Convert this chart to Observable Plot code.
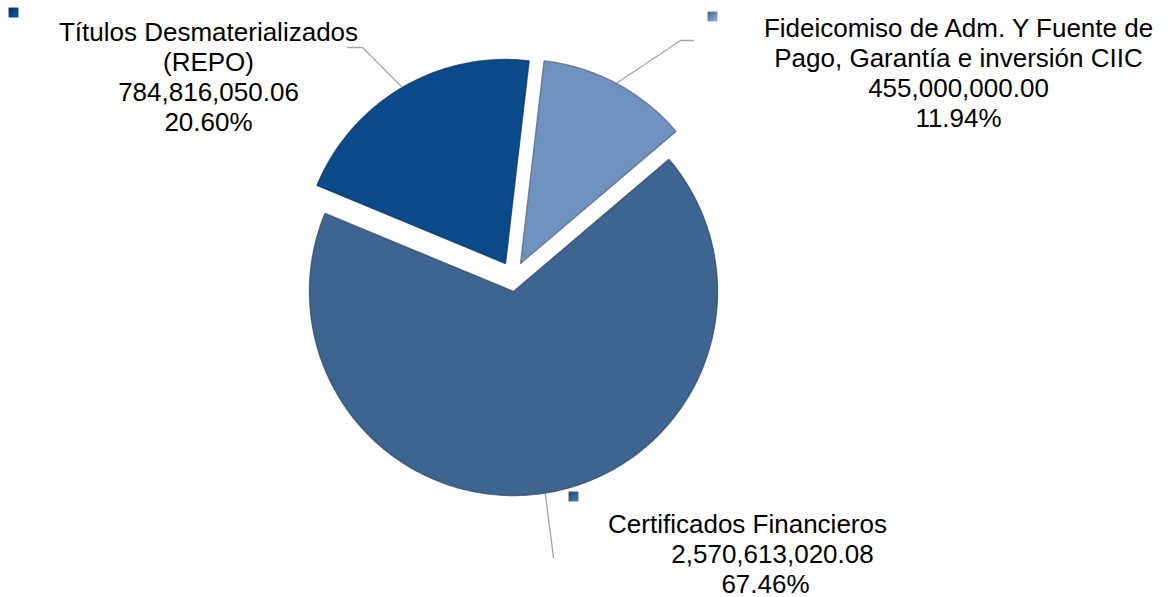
<!DOCTYPE html>
<html><head><meta charset="utf-8">
<script src="https://cdn.jsdelivr.net/npm/d3@7"></script>
<script src="https://cdn.jsdelivr.net/npm/@observablehq/plot@0.6"></script>
<style>html,body{margin:0;padding:0;background:#fff;} #chart svg{display:block}</style>
</head><body><div id="chart"></div>
<script>
// ---- data ----
const categories = ["Títulos Desmaterializados\n(REPO)", "Fideicomiso de Adm. Y Fuente de\nPago, Garantía e inversión CIIC", "Certificados Financieros"];
const values = [784816050.06, 455000000.00, 2570613020.08];
const colors = ["#0b4a8a", "#7092bf", "#3d6590"];

// ---- layout (pixels) ----
const W = 1168, H = 597;
const R = 204;
const center = [513, 291];
const explode = [[-8, -28], [7, -28], [0, 0]];
const startAngle = -67.5 * Math.PI / 180;
const labelX = [[208, 208, 208, 208], [958, 958, 958, 958], [747, 772, 765]];
const labelY0 = [40, 36, 532];
const lineGap = 30;
const leaderElbow = [[[362, 47], [347, 47]], [[680, 40], [693, 40]], [[553, 557]]];
const keyPos = [[13, 12], [712, 16], [573, 496]];

const total = d3.sum(values);
const fmtVal = d3.format(",.2f");
const fmtPct = d3.format(".2%");
const arcs = d3.pie().sort(null).startAngle(startAngle).endAngle(startAngle + 2 * Math.PI)(values);

const sliceMarks = [];
const leaders = [];
arcs.forEach((a, i) => {
  const ox = center[0] + explode[i][0], oy = center[1] + explode[i][1];
  const n = Math.max(12, Math.ceil((a.endAngle - a.startAngle) * 80));
  const pts = [{x: ox, y: oy}];
  for (let j = 0; j <= n; j++) {
    const t = a.startAngle + (a.endAngle - a.startAngle) * j / n;
    pts.push({x: ox + R * Math.sin(t), y: oy - R * Math.cos(t)});
  }
  pts.push({x: ox, y: oy});
  sliceMarks.push(Plot.line(pts, {x: "x", y: "y", fill: colors[i], stroke: d3.color(colors[i]).darker(0.9).formatHex(), strokeWidth: 1.4, strokeOpacity: 0.75, strokeLinejoin: "miter"}));
  const mid = (a.startAngle + a.endAngle) / 2;
  const lp = [{k: i, x: ox + (R + 1) * Math.sin(mid), y: oy - (R + 1) * Math.cos(mid)}];
  leaderElbow[i].forEach(([x, y]) => lp.push({k: i, x, y}));
  leaders.push(...lp);
});

const labelRows = [];
categories.forEach((c, i) => {
  const lines = [...c.split("\n"), fmtVal(values[i]), fmtPct(values[i] / total)];
  lines.forEach((t, j) => labelRows.push({text: t, x: labelX[i][j], y: labelY0[i] + j * lineGap}));
});
const keys = categories.map((c, i) => ({k: i, x: keyPos[i][0], y: keyPos[i][1]}));

const chart = Plot.plot({
  width: W, height: H, margin: 0,
  x: {domain: [0, W], range: [0, W], axis: null},
  y: {domain: [0, H], range: [0, H], axis: null},
  style: {background: "white", overflow: "visible"},
  marks: [
    ...sliceMarks,
    Plot.line(leaders, {x: "x", y: "y", z: "k", stroke: "#a5a5a5", strokeWidth: 1.3}),
    Plot.dot(keys, {x: "x", y: "y", symbol: "square", r: 5.6, fill: d => `url(#key${d.k})`, stroke: "none"}),
    Plot.text(labelRows, {x: "x", y: "y", text: "text", fontSize: 26, fontFamily: "'Liberation Sans', Arial, sans-serif", fill: "#000", textAnchor: "middle", lineAnchor: "bottom"})
  ]
});
const defs = d3.select(chart).insert("defs", ":first-child");
colors.forEach((c, i) => {
  const g = defs.append("linearGradient").attr("id", `key${i}`).attr("x1", 0).attr("y1", 0).attr("x2", 1).attr("y2", 1);
  g.append("stop").attr("offset", "0%").attr("stop-color", d3.color(c).darker(1.2).formatHex());
  g.append("stop").attr("offset", "100%").attr("stop-color", d3.color(c).brighter(0.6).formatHex());
});
document.getElementById("chart").appendChild(chart);
</script>
</body></html>
